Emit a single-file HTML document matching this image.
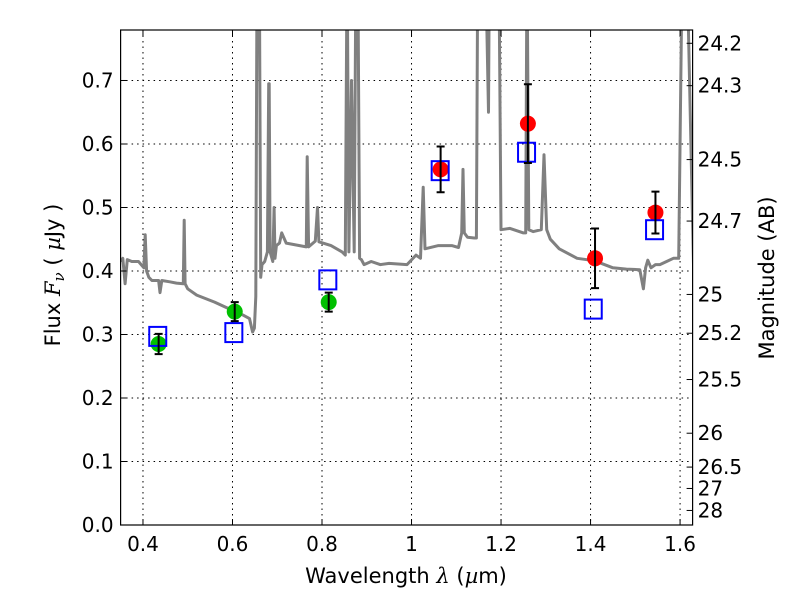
<!DOCTYPE html>
<html><head><meta charset="utf-8"><style>
body{margin:0;background:#fff;}
svg{display:block;font-family:"DejaVu Sans","Liberation Sans",sans-serif;}
</style></head><body>
<svg id="chart" width="800" height="600" viewBox="0 0 800 600">
<defs><clipPath id="plotclip"><rect x="120.6" y="30" width="572" height="495"/></clipPath></defs>
<rect x="0" y="0" width="800" height="600" fill="#fff"/>
<g id="grid"></g>
<g id="spec" clip-path="url(#plotclip)"></g>
<g id="marks"></g>
<rect x="120.6" y="30" width="572" height="495" fill="none" stroke="#000" stroke-width="1.2"/>
<g id="axes"></g>
<text x="406" y="583" font-size="21" text-anchor="middle">Wavelength  <tspan font-family="'DejaVu Serif',serif" font-style="italic">λ</tspan> (<tspan font-family="'DejaVu Serif',serif" font-style="italic">µ</tspan>m)</text>
<text transform="translate(60,275) rotate(-90)" font-size="21" text-anchor="middle">Flux  <tspan font-family="'DejaVu Serif',serif" font-style="italic">F<tspan font-size="15" dy="4">ν</tspan></tspan><tspan dy="-4">  (  </tspan><tspan font-family="'DejaVu Serif',serif" font-style="italic">µ</tspan>Jy )</text>
<text transform="translate(774,278) rotate(-90)" font-size="21" text-anchor="middle">Magnitude (AB)</text>
</svg>
<script>
const xTicks=[0.4,0.6,0.8,1.0,1.2,1.4,1.6];
const xTickLabels=["0.4","0.6","0.8","1","1.2","1.4","1.6"];
const yTicks=[0,0.1,0.2,0.3,0.4,0.5,0.6,0.7];
const yTickLabels=["0.0","0.1","0.2","0.3","0.4","0.5","0.6","0.7"];
const magTicks=[24.2,24.3,24.5,24.7,25,25.2,25.5,26,26.5,27,28];
const magTickLabels=["24.2","24.3","24.5","24.7","25","25.2","25.5","26","26.5","27","28"];
const specWave=[0.35,0.355,0.36,0.365,0.375,0.39,0.402,0.405,0.408,0.413,0.42,0.435,0.438,0.442,0.46,0.475,0.49,0.492,0.494,0.5,0.52,0.56,0.6,0.625,0.638,0.645,0.649,0.652,0.655,0.66,0.663,0.666,0.672,0.678,0.681,0.682,0.684,0.69,0.693,0.695,0.698,0.705,0.71,0.72,0.75,0.765,0.767,0.77,0.785,0.79,0.793,0.82,0.845,0.852,0.856,0.86,0.866,0.872,0.876,0.88,0.884,0.888,0.894,0.91,0.93,0.95,0.99,1.01,1.02,1.026,1.03,1.06,1.09,1.105,1.112,1.115,1.118,1.125,1.14,1.145,1.148,1.165,1.172,1.174,1.18,1.195,1.2,1.22,1.25,1.255,1.258,1.262,1.272,1.29,1.296,1.302,1.31,1.33,1.37,1.4,1.42,1.45,1.48,1.51,1.518,1.523,1.528,1.535,1.545,1.555,1.57,1.585,1.595,1.597,1.605,1.612,1.615,1.63];
const specFlux=[0.415,0.42,0.38,0.418,0.415,0.415,0.405,0.457,0.4,0.39,0.385,0.385,0.366,0.385,0.383,0.381,0.38,0.48,0.38,0.372,0.362,0.351,0.338,0.33,0.325,0.304,0.31,0.36,0.9,0.9,0.39,0.41,0.415,0.43,0.695,0.695,0.43,0.415,0.5,0.42,0.44,0.444,0.46,0.444,0.44,0.438,0.58,0.438,0.447,0.5,0.446,0.44,0.43,0.425,0.9,0.43,0.7,0.43,0.9,0.9,0.42,0.418,0.41,0.415,0.41,0.412,0.41,0.425,0.42,0.532,0.435,0.44,0.44,0.437,0.46,0.56,0.46,0.453,0.452,0.452,0.9,0.9,0.65,0.9,0.9,0.9,0.465,0.467,0.46,0.46,0.9,0.465,0.462,0.465,0.583,0.465,0.45,0.435,0.42,0.417,0.413,0.405,0.403,0.402,0.372,0.405,0.417,0.405,0.41,0.41,0.415,0.42,0.42,0.42,0.9,0.9,0.9,0.41,0.41];
const photWave=[0.435,0.605,0.815,1.065,1.26,1.41,1.545];
const photFlux=[0.285,0.336,0.351,0.56,0.632,0.42,0.492];
const photErr=[0.016,0.015,0.015,0.036,0.062,0.047,0.033];
const photColor=["#00c000","#00c000","#00c000","#ff0000","#ff0000","#ff0000","#ff0000"];
const modelWave=[0.433,0.603,0.813,1.064,1.257,1.406,1.543];
const modelFlux=[0.297,0.303,0.386,0.558,0.587,0.34,0.465];

const X0=120.6,X1=692.6,Y0=525,Y1=30;
const xMin=0.35,xMax=1.628,yMin=0,yMax=0.7795;
const sx=v=>X0+(v-xMin)/(xMax-xMin)*(X1-X0);
const sy=v=>Y0-(v-yMin)/(yMax-yMin)*(Y0-Y1);
const NS="http://www.w3.org/2000/svg";
function mk(tag,attrs,parent){const e=document.createElementNS(NS,tag);for(const k in attrs)e.setAttribute(k,attrs[k]);parent.appendChild(e);return e;}
const grid=document.getElementById('grid'),axes=document.getElementById('axes'),spec=document.getElementById('spec'),marks=document.getElementById('marks');

xTicks.forEach((t,i)=>{const x=sx(t);
 const g=mk('line',{x1:x,x2:x,y1:Y1,y2:Y0,stroke:'#000','stroke-width':1,'stroke-dasharray':'1.5,4'},grid);
 
 
 const a=mk('line',{x1:x,x2:x,y1:Y0,y2:Y0-6,stroke:'#000'},axes);
 
 
 const b=mk('line',{x1:x,x2:x,y1:Y1,y2:Y1+6,stroke:'#000'},axes);
 
 
 const l=mk('text',{x:x,y:Y0+26,'font-size':20,'text-anchor':'middle'},axes);l.textContent=xTickLabels[i];
 
 
});
yTicks.forEach((t,i)=>{const y=sy(t);
 const g=mk('line',{x1:X0,x2:X1,y1:y,y2:y,stroke:'#000','stroke-width':1,'stroke-dasharray':'1.5,4'},grid);
 
 
 const a=mk('line',{x1:X0,x2:X0+6,y1:y,y2:y,stroke:'#000'},axes);
 
 
 const l=mk('text',{x:X0-7,y:y+7,'font-size':20,'text-anchor':'end'},axes);l.textContent=yTickLabels[i];
 
 
});
magTicks.forEach((m,i)=>{const f=Math.pow(10,(23.9-m)/2.5);const y=sy(f);
 const a=mk('line',{x1:X1,x2:X1-6,y1:y,y2:y,stroke:'#000'},axes);
 
 
 const l=mk('text',{x:X1+5,y:y+7,'font-size':20},axes);l.textContent=magTickLabels[i];
 
 
});
const pts=specWave.map((w,i)=>sx(w).toFixed(1)+','+sy(specFlux[i]).toFixed(1)).join(' ');
const pl=mk('polyline',{points:pts,fill:'none',stroke:'#808080','stroke-width':3,'stroke-linejoin':'round'},spec);


photWave.forEach((w,i)=>{const x=sx(w),y=sy(photFlux[i]);
 const c=mk('circle',{cx:x,cy:y,r:8,fill:photColor[i]},marks);
 
 
});
modelWave.forEach((w,i)=>{const x=sx(w),y=sy(modelFlux[i]);
 const r=mk('rect',{x:x-8.5,y:y-9.5,width:17,height:19,fill:'none',stroke:'#0000ff','stroke-width':2},marks);
 
 
});
photWave.forEach((w,i)=>{const x=sx(w),yt=sy(photFlux[i]+photErr[i]),yb=sy(photFlux[i]-photErr[i]);
 const e=mk('path',{d:`M${x},${yt}V${yb}M${x-4},${yt}H${x+4}M${x-4},${yb}H${x+4}`,stroke:'#000','stroke-width':2,fill:'none'},marks);
 
 
});
</script>
</body></html>
